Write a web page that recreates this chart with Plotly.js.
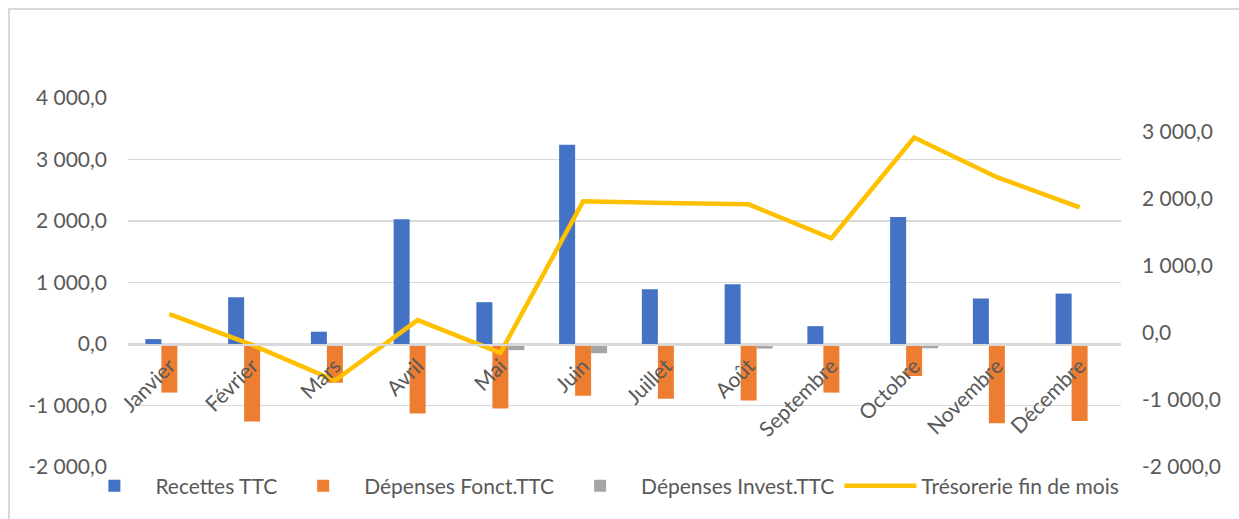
<!DOCTYPE html>
<html>
<head>
<meta charset="utf-8">
<script src="https://cdn.plot.ly/plotly-3.0.1.min.js"></script>
<style>
  html, body { margin: 0; padding: 0; background: #fff; }
  #wrap { position: relative; width: 1239px; height: 519px; overflow: hidden; }
  #chart { width: 1239px; height: 519px; }
  #frame { position: absolute; left: 8px; top: 8px; width: 1240px; height: 520px;
           border-left: 2px solid #D9D9D9; border-top: 2px solid #D9D9D9; pointer-events: none; }
</style>
</head>
<body>
<div id="wrap"><div id="chart"></div><div id="frame"></div></div>
<script>
const months = ["Janvier","Février","Mars","Avril","Mai","Juin","Juillet","Août","Septembre","Octobre","Novembre","Décembre"];
const recettes = [80, 760, 200, 2030, 680, 3240, 890, 970, 290, 2065, 740, 820];
const depFonct = [-790, -1260, -630, -1130, -1050, -840, -890, -920, -790, -520, -1290, -1250];
const depInvest = [-10, -30, -10, -10, -100, -150, -15, -75, -20, -70, -30, -10];
const tresorerie = [280, -180, -710, 190, -300, 1960, 1935, 1915, 1410, 2910, 2320, 1870];
const leftTicks = [-2000, -1000, 0, 1000, 2000, 3000, 4000];
const leftTickText = ["-2 000,0", "-1 000,0", "0,0", "1 000,0", "2 000,0", "3 000,0", "4 000,0"];
const rightTicks = [-2000, -1000, 0, 1000, 2000, 3000];
const rightTickText = ["-2 000,0", "-1 000,0", "0,0", "1 000,0", "2 000,0", "3 000,0"];

const FONT = "Lato, 'Liberation Sans', sans-serif";
const TXT = "#595959";
const FS = 21;

const traces = [
  {type: "bar", name: "Recettes TTC", x: months, y: recettes, marker: {color: "#4472C4"}, yaxis: "y"},
  {type: "bar", name: "Dépenses Fonct.TTC", x: months, y: depFonct, marker: {color: "#ED7D31"}, yaxis: "y"},
  {type: "bar", name: "Dépenses Invest.TTC", x: months, y: depInvest, marker: {color: "#A5A5A5"}, yaxis: "y"},
  {type: "scatter", mode: "lines", name: "Trésorerie fin de mois", x: months, y: tresorerie,
   line: {color: "#FFC000", width: 4.5}, yaxis: "y2"}
];

const layout = {
  width: 1239, height: 519,
  margin: {l: 128, r: 118, t: 98, b: 49},
  paper_bgcolor: "#fff", plot_bgcolor: "#fff",
  separators: ", ",
  font: {family: FONT, size: FS, color: TXT},
  barmode: "group", bargap: 0.42, bargroupgap: 0,
  showlegend: true,
  legend: {orientation: "h", x: -0.055, xanchor: "left", y: -0.052, yanchor: "middle",
           bgcolor: "rgba(0,0,0,0)",
           font: {family: FONT, size: FS, color: TXT}, traceorder: "normal",
           itemwidth: 72, tracegroupgap: 0},
  xaxis: {type: "category", anchor: "free", position: 1/3, tickangle: -45,
          showline: true, linecolor: "#D9D9D9", linewidth: 1.5, ticks: "",
          showgrid: false, zeroline: false, automargin: false,
          tickfont: {family: FONT, size: FS, color: TXT}},
  yaxis: {range: [-2000, 4000], tickvals: leftTicks, ticktext: leftTickText,
          showgrid: true, gridcolor: "#D9D9D9", gridwidth: 1.3, zeroline: false,
          showline: false, ticks: "", ticklabelstandoff: 20, automargin: false,
          tickfont: {family: FONT, size: FS, color: TXT}},
  yaxis2: {range: [-2000, 3500], tickvals: rightTicks, ticktext: rightTickText,
           overlaying: "y", side: "right", showgrid: false, zeroline: false,
           showline: false, ticks: "", ticklabelstandoff: 20, automargin: false,
           tickfont: {family: FONT, size: FS, color: TXT}}
};

Plotly.newPlot("chart", traces, layout, {displayModeBar: false, staticPlot: true});
</script>
</body>
</html>
